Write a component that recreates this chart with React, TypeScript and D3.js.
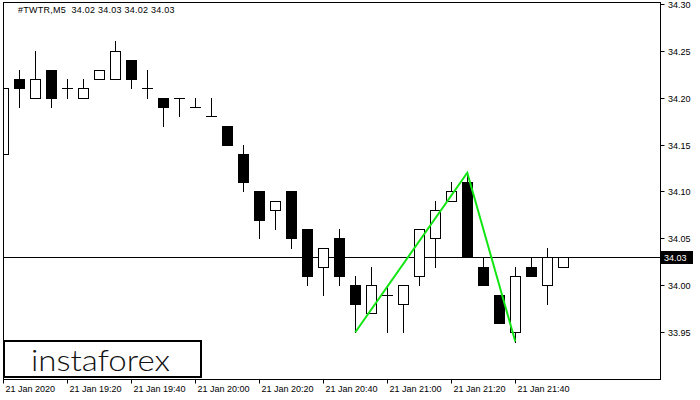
import React from "react";
import * as d3 from "d3";

const title = "#TWTR,M5  34.02 34.03 34.02 34.03";
const opens = [34.14, 34.22, 34.2, 34.23, 34.21, 34.2, 34.22, 34.22, 34.24, 34.21, 34.2, 34.2, 34.19, 34.18, 34.17, 34.14, 34.1, 34.08, 34.1, 34.06, 34.02, 34.05, 34.0, 33.97, 33.99, 33.98, 34.01, 34.05, 34.09, 34.11, 34.02, 33.99, 33.95, 34.02, 34.0, 34.02];
const highs = [34.22, 34.23, 34.25, 34.23, 34.22, 34.22, 34.23, 34.26, 34.24, 34.23, 34.2, 34.2, 34.2, 34.2, 34.17, 34.15, 34.1, 34.09, 34.1, 34.06, 34.04, 34.06, 34.01, 34.02, 34.0, 34.0, 34.06, 34.09, 34.11, 34.12, 34.03, 33.99, 34.02, 34.03, 34.04, 34.03];
const lows = [34.13, 34.19, 34.2, 34.19, 34.2, 34.2, 34.22, 34.22, 34.21, 34.2, 34.17, 34.18, 34.19, 34.18, 34.15, 34.1, 34.05, 34.06, 34.04, 34.0, 33.99, 34.0, 33.95, 33.97, 33.95, 33.95, 34.0, 34.02, 34.09, 34.03, 34.0, 33.96, 33.94, 34.01, 33.98, 34.02];
const closes = [34.21, 34.21, 34.22, 34.2, 34.21, 34.21, 34.23, 34.25, 34.22, 34.21, 34.19, 34.2, 34.19, 34.18, 34.15, 34.11, 34.07, 34.09, 34.05, 34.01, 34.04, 34.01, 33.98, 34.0, 33.99, 34.0, 34.06, 34.08, 34.1, 34.03, 34.0, 33.96, 34.01, 34.01, 34.03, 34.03];
const xTickIndex = [0, 4, 8, 12, 16, 20, 24, 28, 32];
const xTickLabels = ["21 Jan 2020", "21 Jan 19:20", "21 Jan 19:40", "21 Jan 20:00", "21 Jan 20:20", "21 Jan 20:40", "21 Jan 21:00", "21 Jan 21:20", "21 Jan 21:40"];
const yTickValues = [34.3, 34.25, 34.2, 34.15, 34.1, 34.05, 34.0, 33.95];
const currentPrice = 34.03;
const patternIndex = [22, 29, 32];
const patternKind = ["low", "high", "low"];

const FONT = "'Liberation Sans', Arial, sans-serif";

export default function App() {
  const W = 700, H = 400;
  const left = 3.5, right = 660.5, top = 2.5, bottom = 379.5;
  const x = d3.scaleLinear().domain([0, 35]).range([3.3, 563.3]);
  const y = d3.scaleLinear().domain([33.9, 34.3]).range([379.1, 3.9]);
  const px = (v: number) => Math.round(v);

  const patternPts: [number, number][] = patternIndex.map((i, k) => [
    x(i),
    y(patternKind[k] === "low" ? lows[i] : highs[i]),
  ]);
  const line = d3.line();

  return (
    <div style={{ position: "fixed", left: 0, top: 0 }}>
      <svg width={W} height={H} style={{ display: "block", background: "#fff" }}>
        <defs>
          <clipPath id="plot">
            <rect x={left} y={top} width={right - left} height={bottom - top} />
          </clipPath>
        </defs>
        <rect x={0} y={0} width={W} height={H} fill="#fff" />
        <g clipPath="url(#plot)">
          <line x1={left} x2={right} y1={px(y(currentPrice)) + 0.5} y2={px(y(currentPrice)) + 0.5} stroke="#000" strokeWidth={1} />
          {opens.map((o, i) => {
            const c = closes[i];
            const cx = px(x(i)) + 0.5;
            const yh = px(y(highs[i]));
            const yl = px(y(lows[i]));
            const yo = px(y(o));
            const yc = px(y(c));
            const bt = Math.min(yo, yc);
            const bb = Math.max(yo, yc);
            const els: React.ReactNode[] = [];
            els.push(<line key="w" x1={cx} x2={cx} y1={yh} y2={yl + 1} stroke="#000" strokeWidth={1} />);
            if (bt === bb) {
              els.push(<line key="d" x1={cx - 5.5} x2={cx + 5.5} y1={bt + 0.5} y2={bt + 0.5} stroke="#000" strokeWidth={1} />);
            } else if (c > o) {
              els.push(<rect key="b" x={cx - 5} y={bt + 0.5} width={10} height={bb - bt} fill="#fff" stroke="#000" strokeWidth={1} />);
            } else {
              els.push(<rect key="b" x={cx - 5.5} y={bt} width={11} height={bb - bt + 1} fill="#000" />);
            }
            return <g key={i}>{els}</g>;
          })}
          <path d={line(patternPts) || ""} fill="none" stroke="#12e612" strokeWidth={2} />
        </g>
        <rect x={left} y={top} width={right - left} height={bottom - top} fill="none" stroke="#000" strokeWidth={1} />
        <text x={18} y={13} fontFamily={FONT} fontSize={9} letterSpacing={0.25} fill="#000" style={{ whiteSpace: "pre" }}>{title}</text>
        {yTickValues.map((v) => {
          const yy = px(y(v)) + 0.5;
          return (
            <g key={v}>
              <line x1={right} x2={right + 4} y1={yy} y2={yy} stroke="#000" />
              <text x={668} y={yy + 3.5} fontFamily={FONT} fontSize={9} fill="#000">{v.toFixed(2)}</text>
            </g>
          );
        })}
        <rect x={661} y={px(y(currentPrice)) - 6} width={32} height={13} fill="#000" />
        <text x={664} y={px(y(currentPrice)) + 4} fontFamily={FONT} fontSize={9} fill="#fff">{currentPrice.toFixed(2)}</text>
        {xTickIndex.map((idx, k) => {
          const xx = px(x(idx)) + 0.5;
          return (
            <g key={idx}>
              <line x1={xx} x2={xx} y1={bottom} y2={bottom + 4} stroke="#000" />
              <text x={xx + 2} y={392} fontFamily={FONT} fontSize={9} fill="#000">{xTickLabels[k]}</text>
            </g>
          );
        })}
        <rect x={4} y={341} width={197} height={36} fill="#fff" stroke="#000" strokeWidth={2} />
        <text x={31} y={371} fontFamily="Lato, 'DejaVu Sans', sans-serif" fontWeight={300} fontSize={30} textLength={139} lengthAdjust="spacingAndGlyphs" fill="#111">instaforex</text>
      </svg>
    </div>
  );
}
